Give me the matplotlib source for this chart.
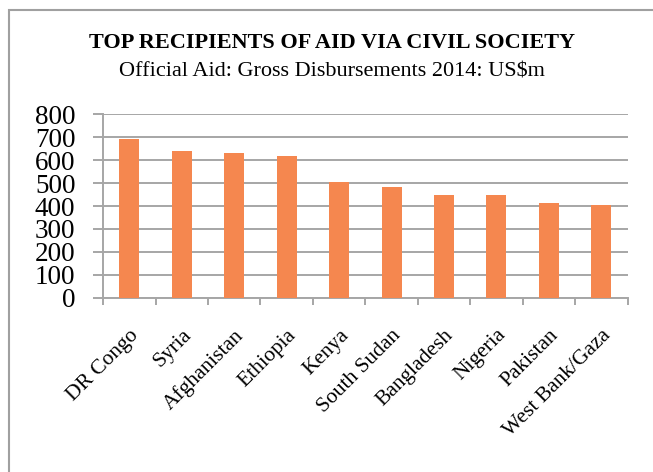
import matplotlib.pyplot as plt
from matplotlib.patches import Rectangle

countries = ['DR Congo', 'Syria', 'Afghanistan', 'Ethiopia', 'Kenya',
             'South Sudan', 'Bangladesh', 'Nigeria', 'Pakistan', 'West Bank/Gaza']
aid = [691, 639, 632, 617, 503, 481, 449, 446, 412, 403]
yticks = [0, 100, 200, 300, 400, 500, 600, 700, 800]

plt.rcParams['font.family'] = ['Liberation Serif', 'DejaVu Serif']

fig = plt.figure(figsize=(6.53, 4.72), dpi=100)
ax = fig.add_axes([0.158, 0.369, 0.803, 0.389])

# outer chart border (only top and left visible in the crop)
fig.patches.append(Rectangle((9 / 653, -0.1), 1.2, 1.1 - 10 / 472,
                             transform=fig.transFigure, fill=False,
                             edgecolor='#A0A0A0', linewidth=1.5))

x = range(len(countries))
ax.bar(x, aid, width=0.38, color='#F5874F', zorder=3)

ax.set_ylim(0, 800)
ax.set_xlim(-0.5, len(countries) - 0.5)
ax.set_yticks(yticks)
ax.set_yticklabels([str(v) for v in yticks], fontsize=19.5)
ax.yaxis.grid(True, color='#A6A6A6', linewidth=1.4, zorder=0)
ax.tick_params(axis='y', length=7, color='#A6A6A6', width=1.4, pad=13)

ax.set_xticks([i - 0.5 for i in range(len(countries) + 1)])
ax.set_xticklabels([])
ax.set_xticks(list(x), minor=True)
ax.set_xticklabels(countries, minor=True, rotation=45, ha='right',
                   rotation_mode='anchor', fontsize=15.5)
ax.tick_params(axis='x', which='major', length=5, color='#A6A6A6', width=1.4)
ax.tick_params(axis='x', which='minor', length=0, pad=20)

for s in ['top', 'right']:
    ax.spines[s].set_visible(False)
for s in ['left', 'bottom']:
    ax.spines[s].set_color('#A6A6A6')
    ax.spines[s].set_linewidth(1.4)

fig.text(0.509, 0.909, 'TOP RECIPIENTS OF AID VIA CIVIL SOCIETY',
         ha='center', va='center', fontsize=16, fontweight='bold')
fig.text(0.509, 0.848, 'Official Aid: Gross Disbursements 2014: US$m',
         ha='center', va='center', fontsize=16)

fig.savefig('out.png', dpi=100)
